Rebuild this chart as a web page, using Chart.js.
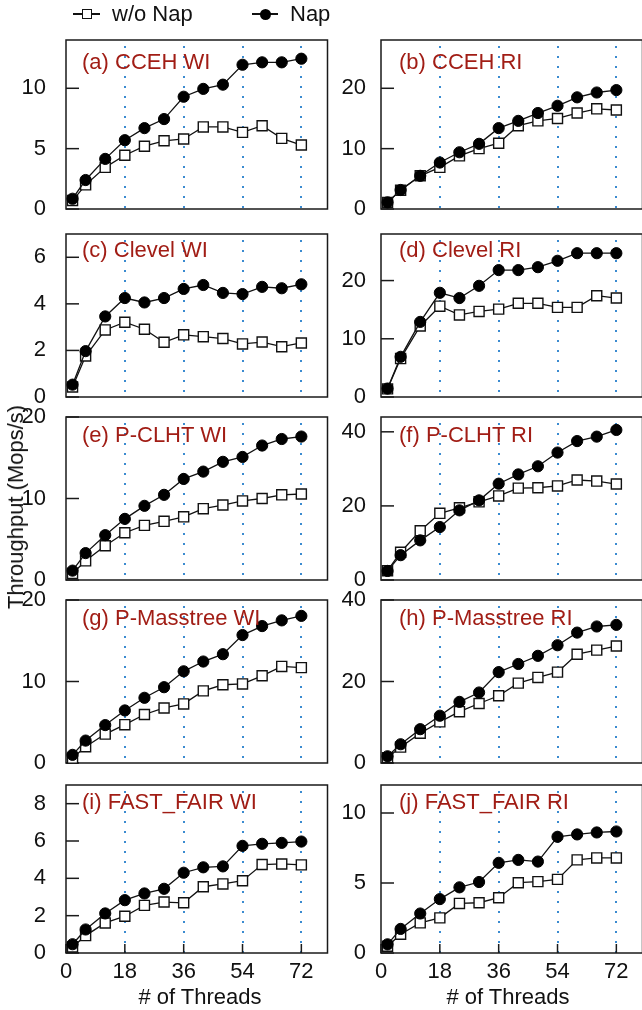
<!DOCTYPE html>
<html>
<head>
<meta charset="utf-8">
<script src="https://cdn.jsdelivr.net/npm/chart.js@4.4.1/dist/chart.umd.min.js"></script>
<style>
html,body{margin:0;padding:0;overflow:hidden;background:#fff;width:642px;height:1010px;}
#wrap{position:relative;width:642px;height:1010px;overflow:hidden;font-family:"Liberation Sans",Arial,Helvetica,sans-serif;color:#111;}
#wrap canvas{position:absolute;}
.ttl{position:absolute;color:#a11d15;font-size:22px;line-height:22px;white-space:nowrap;}
.txt{position:absolute;font-size:22px;line-height:22px;white-space:nowrap;color:#111;}
.lgline{position:absolute;height:1.5px;background:#111;}
.lgsq{position:absolute;box-sizing:border-box;border:1.5px solid #111;background:#fff;}
.lgci{position:absolute;border-radius:50%;background:#000;}
</style>
</head>
<body>
<div id="wrap"></div>
<script>
// ---------- data ----------
const threads = [2, 6, 12, 18, 24, 30, 36, 42, 48, 54, 60, 66, 72];
const xTickValues = [0, 18, 36, 54, 72];
const seriesNames = ['w/o Nap', 'Nap'];
const xAxisTitle = '# of Threads';
const yAxisTitle = 'Throughput (Mops/s)';
const panelTitles = ['(a) CCEH WI', '(b) CCEH RI', '(c) Clevel WI', '(d) Clevel RI',
  '(e) P-CLHT WI', '(f) P-CLHT RI', '(g) P-Masstree WI', '(h) P-Masstree RI',
  '(i) FAST_FAIR WI', '(j) FAST_FAIR RI'];

const noNapA = [0.7, 2.0, 3.45, 4.45, 5.2, 5.65, 5.8, 6.8, 6.8, 6.35, 6.9, 5.85, 5.3];
const napA   = [0.85, 2.4, 4.15, 5.7, 6.7, 7.45, 9.3, 9.95, 10.3, 11.95, 12.15, 12.15, 12.45];
const noNapB = [1.1, 3.1, 5.5, 6.9, 8.8, 10.0, 10.9, 13.8, 14.6, 15.0, 15.9, 16.6, 16.4];
const napB   = [1.1, 3.15, 5.5, 7.7, 9.4, 10.8, 13.4, 14.6, 15.9, 17.1, 18.5, 19.3, 19.7];
const noNapC = [0.43, 1.76, 2.88, 3.21, 2.91, 2.35, 2.67, 2.59, 2.51, 2.28, 2.36, 2.16, 2.32];
const napC   = [0.53, 1.97, 3.46, 4.25, 4.06, 4.25, 4.64, 4.81, 4.47, 4.42, 4.73, 4.67, 4.84];
const noNapD = [1.4, 6.6, 12.2, 15.6, 14.1, 14.7, 15.1, 16.1, 16.1, 15.4, 15.4, 17.4, 17.0];
const napD   = [1.45, 6.9, 12.9, 17.9, 17.0, 19.1, 21.8, 21.8, 22.3, 23.4, 24.7, 24.7, 24.7];
const noNapE = [0.8, 2.35, 4.2, 5.8, 6.7, 7.2, 7.75, 8.75, 9.2, 9.7, 10.0, 10.45, 10.55];
const napE   = [1.15, 3.3, 5.5, 7.5, 9.1, 10.45, 12.4, 13.3, 14.5, 15.1, 16.5, 17.3, 17.6];
const noNapF = [2.5, 7.5, 13.3, 18.0, 19.5, 21.1, 22.7, 24.8, 24.9, 25.4, 27.0, 26.7, 25.9];
const napF   = [2.45, 6.7, 10.7, 14.3, 18.8, 21.5, 26.0, 28.5, 30.7, 34.4, 37.5, 38.7, 40.5];
const noNapG = [0.6, 2.0, 3.55, 4.7, 5.95, 6.75, 7.25, 8.85, 9.6, 9.7, 10.7, 11.85, 11.7];
const napG   = [1.0, 2.75, 4.65, 6.45, 8.0, 9.3, 11.25, 12.45, 13.35, 15.7, 16.8, 17.5, 18.05];
const noNapH = [1.3, 3.9, 7.3, 10.1, 12.6, 14.6, 16.5, 19.6, 21.0, 22.3, 26.7, 27.7, 28.7];
const napH   = [1.65, 4.6, 8.3, 11.6, 15.0, 17.3, 22.3, 24.3, 26.3, 28.9, 32.0, 33.5, 33.9];
const noNapI = [0.32, 0.93, 1.61, 1.97, 2.55, 2.73, 2.69, 3.55, 3.7, 3.87, 4.74, 4.77, 4.72];
const napI   = [0.47, 1.26, 2.12, 2.83, 3.19, 3.44, 4.3, 4.59, 4.64, 5.74, 5.85, 5.9, 5.97];
const noNapJ = [0.48, 1.34, 2.15, 2.51, 3.54, 3.59, 3.95, 5.02, 5.1, 5.26, 6.65, 6.79, 6.79];
const napJ   = [0.62, 1.72, 2.82, 3.85, 4.69, 5.07, 6.44, 6.65, 6.53, 8.3, 8.47, 8.61, 8.68];

const yMaxValues = [14, 28, 7, 28, 20, 44, 20, 40, 9, 12];
const yTicksA = [0, 5, 10];
const yTicksB = [0, 10, 20];
const yTicksC = [0, 2, 4, 6];
const yTicksD = [0, 10, 20];
const yTicksE = [0, 10, 20];
const yTicksF = [0, 20, 40];
const yTicksG = [0, 10, 20];
const yTicksH = [0, 20, 40];
const yTicksI = [0, 2, 4, 6, 8];
const yTicksJ = [0, 5, 10];

const noNapSeries = [noNapA, noNapB, noNapC, noNapD, noNapE, noNapF, noNapG, noNapH, noNapI, noNapJ];
const napSeries = [napA, napB, napC, napD, napE, napF, napG, napH, napI, napJ];
const yTickSets = [yTicksA, yTicksB, yTicksC, yTicksD, yTicksE, yTicksF, yTicksG, yTicksH, yTicksI, yTicksJ];

// ---------- layout ----------
const FONT = '"Liberation Sans", Arial, Helvetica, sans-serif';
const rowTop = [40, 234, 417, 600, 785];
const rowBottom = [209, 397, 580, 763, 953];
const colPlotLeft = [66, 381];
const colPlotRight = [332, 647];
const colCanvasLeft = [0, 336];
const colTickPad = [12, 7];
const titleOffsetY = [22, 16, 17.5, 18, 17];
const titleOffsetX = [16, 18];

const wrap = document.getElementById('wrap');

const framePlugin = {
  id: 'frame',
  beforeDatasetsDraw(chart, args, opts) {
    const ctx = chart.ctx, a = chart.chartArea, xs = chart.scales.x, ys = chart.scales.y;
    ctx.save();
    // dotted vertical guides
    ctx.strokeStyle = '#3b8bd0';
    ctx.lineWidth = 2;
    ctx.setLineDash([2, 8]);
    ctx.lineDashOffset = 4;
    xs.ticks.forEach(t => {
      if (t.value <= xs.min) return;
      const px = Math.round(xs.getPixelForValue(t.value));
      ctx.beginPath(); ctx.moveTo(px, a.top); ctx.lineTo(px, a.bottom); ctx.stroke();
    });
    ctx.setLineDash([]);
    // frame
    ctx.strokeStyle = '#1a1a1a';
    ctx.lineWidth = 1.5;
    ctx.strokeRect(a.left, a.top, a.right - a.left, a.bottom - a.top);
    // inward y ticks
    ys.ticks.forEach(t => {
      const py = ys.getPixelForValue(t.value);
      ctx.beginPath(); ctx.moveTo(a.left, py); ctx.lineTo(a.left + 13, py); ctx.stroke();
    });
    if (opts.xTicks) {
      xs.ticks.forEach(t => {
        const px = xs.getPixelForValue(t.value);
        ctx.beginPath(); ctx.moveTo(px, a.bottom); ctx.lineTo(px, a.bottom - 9); ctx.stroke();
      });
    }
    ctx.restore();
  }
};

panelTitles.forEach((title, i) => {
  const row = Math.floor(i / 2), col = i % 2;
  const plotTop = rowTop[row], plotBottom = rowBottom[row];
  const plotLeft = colPlotLeft[col], plotRight = colPlotRight[col];
  const canvasLeft = colCanvasLeft[col];
  const isBottom = row === 4;
  const T = 32, R = 4, B = isBottom ? 1010 - plotBottom : 32;
  const L = plotLeft - canvasLeft;
  const w = plotRight - canvasLeft + R, h = plotBottom - plotTop + T + B;

  const cv = document.createElement('canvas');
  cv.width = w; cv.height = h;
  cv.style.left = canvasLeft + 'px';
  cv.style.top = (plotTop - T) + 'px';
  cv.style.width = w + 'px';
  cv.style.height = h + 'px';
  wrap.appendChild(cv);

  const yTicks = yTickSets[i];

  new Chart(cv, {
    type: 'line',
    data: {
      datasets: [
        {
          label: seriesNames[0],
          data: threads.map((t, k) => ({ x: t, y: noNapSeries[i][k] })),
          order: 1,
          borderColor: '#111', borderWidth: 1.3,
          pointStyle: 'rect', pointRadius: 7.1, pointBorderWidth: 1.4,
          pointBackgroundColor: '#fff', pointBorderColor: '#111',
          fill: false, tension: 0, clip: false
        },
        {
          label: seriesNames[1],
          data: threads.map((t, k) => ({ x: t, y: napSeries[i][k] })),
          order: 0,
          borderColor: '#111', borderWidth: 1.3,
          pointStyle: 'circle', pointRadius: 5.6, pointBorderWidth: 1,
          pointBackgroundColor: '#000', pointBorderColor: '#000',
          fill: false, tension: 0, clip: false
        }
      ]
    },
    options: {
      responsive: false,
      animation: false,
      devicePixelRatio: 1,
      events: [],
      layout: { padding: { top: T, right: R, left: 0, bottom: 0 } },
      plugins: {
        legend: { display: false },
        tooltip: { enabled: false },
        frame: { xTicks: isBottom }
      },
      scales: {
        x: {
          type: 'linear', min: 0, max: 80,
          afterBuildTicks: s => { s.ticks = xTickValues.map(v => ({ value: v })); },
          afterFit: s => { s.height = B; },
          grid: { display: false },
          border: { display: false },
          ticks: {
            display: isBottom,
            font: { family: FONT, size: 22 },
            color: '#111',
            padding: -2,
            maxRotation: 0
          }
        },
        y: {
          type: 'linear', min: 0, max: yMaxValues[i],
          afterBuildTicks: s => { s.ticks = yTicks.map(v => ({ value: v })); },
          afterFit: s => { s.width = L; },
          grid: { display: false },
          border: { display: false },
          ticks: {
            font: { family: FONT, size: 22 },
            color: '#111',
            padding: colTickPad[col]
          }
        }
      }
    },
    plugins: [framePlugin]
  });

  const d = document.createElement('div');
  d.className = 'ttl';
  d.textContent = title;
  d.style.left = (plotLeft + titleOffsetX[col]) + 'px';
  d.style.top = (plotTop + titleOffsetY[row] - 11) + 'px';
  wrap.appendChild(d);

  if (isBottom) {
    const xt = document.createElement('div');
    xt.className = 'txt';
    xt.textContent = xAxisTitle;
    xt.style.left = (col === 0 ? 200 : 508) + 'px';
    xt.style.top = (997 - 11) + 'px';
    xt.style.transform = 'translateX(-50%)';
    wrap.appendChild(xt);
  }
});

// y axis title
const yt = document.createElement('div');
yt.className = 'txt';
yt.textContent = yAxisTitle;
yt.style.left = '16px';
yt.style.top = '507px';
yt.style.transform = 'translate(-50%,-50%) rotate(-90deg)';
wrap.appendChild(yt);

// legend
function addEl(cls, l, t, w, h) {
  const e = document.createElement('div');
  e.className = cls;
  e.style.left = l + 'px'; e.style.top = t + 'px';
  e.style.width = w + 'px'; e.style.height = h + 'px';
  wrap.appendChild(e);
  return e;
}
addEl('lgline', 73, 13.25, 27, 1.5);
addEl('lgsq', 82, 9, 10, 10);
const l1 = document.createElement('div');
l1.className = 'txt'; l1.textContent = seriesNames[0];
l1.style.left = '112px'; l1.style.top = '3px';
wrap.appendChild(l1);
addEl('lgline', 252, 13.25, 26, 1.5);
addEl('lgci', 259.5, 8.5, 11, 11);
const l2 = document.createElement('div');
l2.className = 'txt'; l2.textContent = seriesNames[1];
l2.style.left = '290px'; l2.style.top = '3px';
wrap.appendChild(l2);
</script>
</body>
</html>
